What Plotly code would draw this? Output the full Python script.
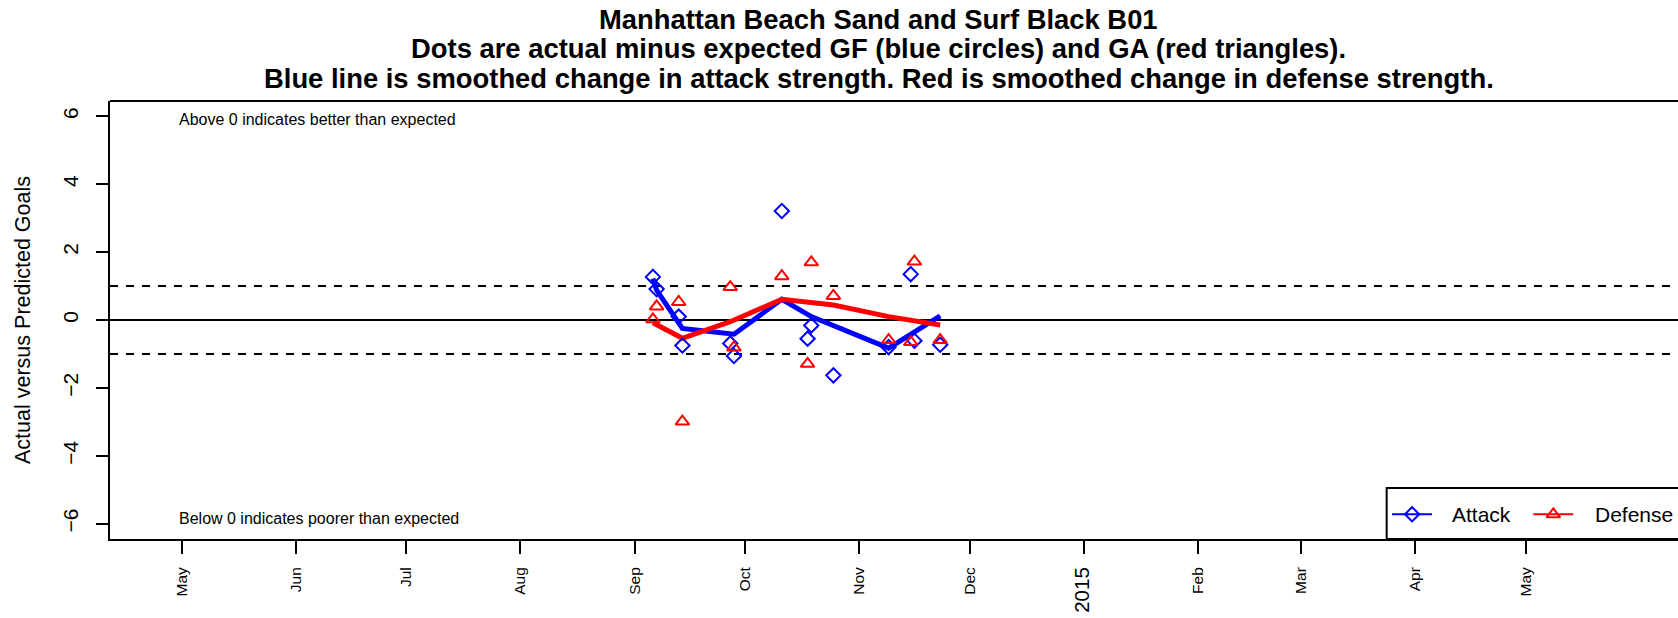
import plotly.graph_objects as go

# ---- data ----
game_dates = ["2014-09-06", "2014-09-07", "2014-09-13", "2014-09-14", "2014-09-27",
              "2014-09-28", "2014-10-11", "2014-10-18", "2014-10-19", "2014-10-25",
              "2014-11-09", "2014-11-15", "2014-11-16", "2014-11-23"]
attack_resid = [1.27, 0.91, 0.10, -0.75, -0.69, -1.06, 3.21, -0.55, -0.16, -1.63,
                -0.80, 1.35, -0.61, -0.73]
defense_resid = [0.02, 0.40, 0.53, -2.99, 0.97, -0.81, 1.29, -1.29, 1.70, 0.71,
                 -0.59, -0.65, 1.72, -0.59]

attack_smooth_dates = ["2014-09-06", "2014-09-07", "2014-09-14", "2014-09-28",
                       "2014-10-11", "2014-10-19", "2014-11-09", "2014-11-23"]
attack_smooth = [1.22, 0.88, -0.25, -0.42, 0.61, 0.10, -0.83, 0.12]
defense_smooth_dates = ["2014-09-06", "2014-09-14", "2014-09-27", "2014-10-11",
                        "2014-10-25", "2014-11-09", "2014-11-23"]
defense_smooth = [-0.08, -0.54, -0.05, 0.61, 0.44, 0.10, -0.15]

month_ticks = ["2014-05-01", "2014-06-01", "2014-07-01", "2014-08-01", "2014-09-01",
               "2014-10-01", "2014-11-01", "2014-12-01", "2015-01-01", "2015-02-01",
               "2015-03-01", "2015-04-01", "2015-05-01"]
month_labels = ["May", "Jun", "Jul", "Aug", "Sep", "Oct", "Nov", "Dec",
                "<span style='font-size:20.5px'>2015</span>", "Feb", "Mar", "Apr", "May"]
y_ticks = [-6, -4, -2, 0, 2, 4, 6]
y_labels = ["\u22126", "\u22124", "\u22122", "0", "2", "4", "6"]
ref_lines = [1, 0, -1]

title_lines = ["Manhattan Beach Sand and Surf Black B01",
               "Dots are actual minus expected GF (blue circles) and GA (red triangles).",
               "Blue line is smoothed change in attack strength. Red is smoothed change in defense strength."]

FONT = "Liberation Sans, Arial, Helvetica, sans-serif"
BLUE = "#0000FF"
RED = "#FF0000"

fig = go.Figure()

fig.add_trace(go.Scatter(x=attack_smooth_dates, y=attack_smooth, mode="lines",
                         line=dict(color=BLUE, width=5), showlegend=False, hoverinfo="skip"))
fig.add_trace(go.Scatter(x=defense_smooth_dates, y=defense_smooth, mode="lines",
                         line=dict(color=RED, width=5), showlegend=False, hoverinfo="skip"))
fig.add_trace(go.Scatter(x=game_dates, y=attack_resid, mode="markers",
                         marker=dict(symbol="diamond-open", size=11, color=BLUE,
                                     line=dict(color=BLUE, width=2)), showlegend=False))
fig.add_trace(go.Scatter(x=game_dates, y=defense_resid, mode="markers",
                         marker=dict(symbol="triangle-up-open", size=12, color=RED,
                                     line=dict(color=RED, width=2)), showlegend=False))

# legend drawn on an overlay unit axis
L_X0, L_Y = 0.8142, 0.0564
fig.add_trace(go.Scatter(x=[0.8176, 0.8431], y=[L_Y, L_Y], xaxis="x2", yaxis="y2", mode="lines",
                         line=dict(color=BLUE, width=2), showlegend=False, hoverinfo="skip"))
fig.add_trace(go.Scatter(x=[0.8304], y=[L_Y], xaxis="x2", yaxis="y2", mode="markers",
                         marker=dict(symbol="diamond-open", size=11, color=BLUE,
                                     line=dict(color=BLUE, width=2)), showlegend=False, hoverinfo="skip"))
fig.add_trace(go.Scatter(x=[0.9077, 0.9332], y=[L_Y, L_Y], xaxis="x2", yaxis="y2", mode="lines",
                         line=dict(color=RED, width=2), showlegend=False, hoverinfo="skip"))
fig.add_trace(go.Scatter(x=[0.9205], y=[L_Y], xaxis="x2", yaxis="y2", mode="markers",
                         marker=dict(symbol="triangle-up-open", size=12, color=RED,
                                     line=dict(color=RED, width=2)), showlegend=False, hoverinfo="skip"))

shapes = []
for v in ref_lines:
    shapes.append(dict(type="line", xref="paper", x0=0, x1=1, yref="y", y0=v, y1=v,
                       line=dict(color="black", width=2, dash="solid" if v == 0 else "8px,8px"),
                       layer="below"))
# top border
shapes.append(dict(type="line", xref="paper", x0=0, x1=1, yref="paper", y0=1, y1=1,
                   line=dict(color="black", width=2)))
# legend box
shapes.append(dict(type="rect", xref="paper", x0=L_X0, x1=1.01, yref="paper", y0=0, y1=0.1164,
                   line=dict(color="black", width=2), fillcolor="white", layer="below"))

annotations = []
for txt, yy in zip(title_lines, [1.1872, 1.1188, 1.0525]):
    annotations.append(dict(text="<b>" + txt + "</b>", xref="paper", yref="paper", x=0.4904, y=yy,
                            xanchor="center", yanchor="middle", showarrow=False,
                            font=dict(family=FONT, size=27.4, color="black")))
annotations.append(dict(text="Actual versus Predicted Goals", xref="paper", yref="paper",
                        x=-0.0555, y=0.5, textangle=-90, xanchor="center", yanchor="middle",
                        showarrow=False, font=dict(family=FONT, size=21.5, color="black")))
annotations.append(dict(text="Above 0 indicates better than expected", xref="x", yref="y",
                        x="2014-05-01", y=5.9, xanchor="left", yanchor="middle", showarrow=False,
                        xshift=-5, font=dict(family=FONT, size=16, color="black")))
annotations.append(dict(text="Below 0 indicates poorer than expected", xref="x", yref="y",
                        x="2014-05-01", y=-5.85, xanchor="left", yanchor="middle", showarrow=False,
                        xshift=-5, font=dict(family=FONT, size=16, color="black")))
annotations.append(dict(text="Attack", xref="paper", yref="paper", x=0.8546, y=L_Y,
                        xanchor="left", yanchor="middle", showarrow=False,
                        font=dict(family=FONT, size=21, color="black")))
annotations.append(dict(text="Defense", xref="paper", yref="paper", x=0.9456, y=L_Y,
                        xanchor="left", yanchor="middle", showarrow=False,
                        font=dict(family=FONT, size=21, color="black")))

fig.update_layout(
    width=1678, height=618,
    margin=dict(l=110, r=0, t=101, b=79),
    paper_bgcolor="white", plot_bgcolor="white",
    font=dict(family=FONT, color="black"),
    showlegend=False,
    shapes=shapes, annotations=annotations,
    xaxis=dict(type="date", range=["2014-04-11 14:00", "2015-06-11 08:00"],
               tickmode="array", tickvals=month_ticks, ticktext=month_labels,
               tickangle=-90, tickfont=dict(size=15.5, family=FONT, color="black"),
               ticks="outside", ticklen=13, tickwidth=2, tickcolor="black",
               ticklabelstandoff=7,
               showline=True, linewidth=2, linecolor="black", mirror=False,
               showgrid=False, zeroline=False),
    yaxis=dict(range=[-6.45, 6.45], tickmode="array", tickvals=y_ticks, ticktext=y_labels,
               tickangle=-90, tickfont=dict(size=21, family=FONT, color="black"),
               ticks="outside", ticklen=12.5, tickwidth=2, tickcolor="black",
               ticklabelstandoff=9,
               showline=True, linewidth=2, linecolor="black",
               showgrid=False, zeroline=False),
    xaxis2=dict(range=[0, 1], overlaying="x", visible=False, fixedrange=True),
    yaxis2=dict(range=[0, 1], overlaying="y", visible=False, fixedrange=True),
)

fig.write_html("out.html", config={"displayModeBar": False},
               post_script="document.body.style.margin='0px';document.body.style.overflow='hidden';")
